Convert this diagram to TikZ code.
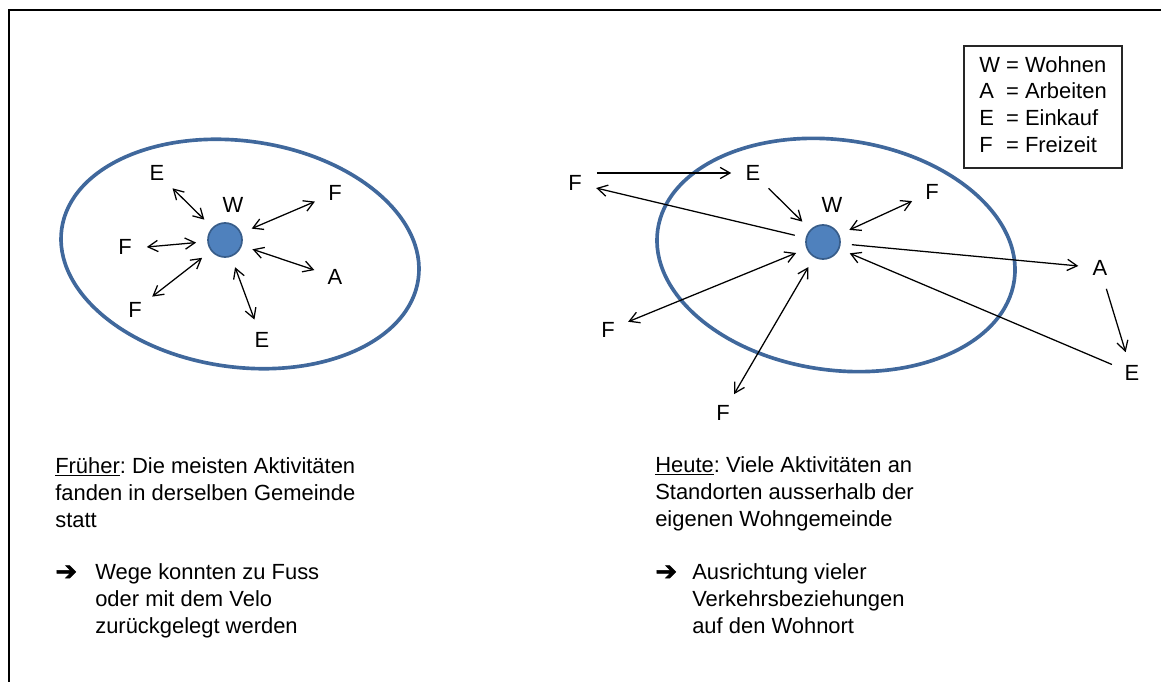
\documentclass[tikz,border=0pt]{standalone}
\usepackage{fontspec}
\setmainfont{Liberation Sans}
\newfontfamily\pfeilfont[FakeBold=2]{DejaVu Sans}
\usepackage{tikz}
\usetikzlibrary{shapes.geometric,arrows.meta}
\frenchspacing
\newcommand{\txtsize}{\fontsize{15.6}{19}\selectfont}
\definecolor{ringblue}{HTML}{40689C}
\definecolor{dotblue}{HTML}{4F81BD}
\definecolor{dotrim}{HTML}{385D8A}
\tikzset{
  gebiet/.style={
    ellipse, draw=ringblue, line width=2.6pt,
    rotate=-8, inner sep=0pt
  },
  wdot/.style={
    circle, draw=dotrim, fill=dotblue, line width=1.2pt,
    minimum size=0.85cm, inner sep=0pt, outer sep=0.3cm
  },
  lbl/.style={
    circle, inner sep=0pt, minimum size=0.75cm,
    outer sep=0.17cm, font=\txtsize
  },
  legende/.style={
    rectangle, draw=black!85, line width=0.9pt,
    minimum width=3.95cm, minimum height=3.05cm,
    inner sep=0pt, font=\txtsize
  },
  txt/.style={anchor=base west, align=left, inner sep=0pt, font=\txtsize},
  arr/.style={-{Straight Barb[length=7pt,width=8pt]}, line width=0.9pt},
  dbl/.style={{Straight Barb[length=7pt,width=8pt]}-{Straight Barb[length=7pt,width=8pt]}, line width=0.9pt},
  rahmen/.style={line width=1.6pt}
}
\begin{document}
\begin{tikzpicture}[x=0.025cm, y=-0.025cm]
\useasboundingbox (0,0) rectangle (1161,682);

% Frame
\draw[rahmen] (9,682) -- (9,10) -- (1161,10);

% Frueher: one municipality
\node[gebiet, minimum width=9cm, minimum height=5.65cm] (ortL) at (240,254) {};
\node[wdot] (wL) at (225,240) {};
\node[lbl] (wtL) at (233,205) {W};
\node[lbl] (eL1) at (157,173) {E};
\node[lbl] (fL1) at (335,193) {F};
\node[lbl] (fL2) at (125,247) {F};
\node[lbl] (aL)  at (335,277) {A};
\node[lbl] (fL3) at (135,310) {F};
\node[lbl] (eL2) at (262,340) {E};

% Heute: trips out of the municipality
\node[gebiet, minimum width=9cm, minimum height=5.75cm] (ortR) at (836,255) {};
\node[wdot] (wR) at (823,242) {};
\node[lbl] (wtR) at (832,205) {W};
\node[lbl] (fR1) at (575,183) {F};
\node[lbl] (eR1) at (753,173) {E};
\node[lbl] (fR2) at (932,192) {F};
\node[lbl] (aR)  at (1100,268) {A};
\node[lbl] (eR2) at (1132,373) {E};
\node[lbl] (fR3) at (608,330) {F};
\node[lbl] (fR4) at (723,413) {F};

% Legend
\node[legende] (leg) at (1043,107)
  {\begin{tabular}{@{}l@{ }l@{}}
   W & = Wohnen\\
   A & = Arbeiten\\
   E & = Einkauf\\
   F & = Freizeit
   \end{tabular}};

% Texts (anchored at the baseline of their last line)
\node[txt] (frueher) at (55,527)
  {\underline{Früher}: Die meisten Aktivitäten\\
   fanden in derselben Gemeinde\\
   statt};
\node[txt] (pfeilL) at (55,580) {\pfeilfont\fontsize{18.5}{19}\selectfont ➔};
\node[txt] (folgeL) at (95,633)
  {Wege konnten zu Fuss\\
   oder mit dem Velo\\
   zurückgelegt werden};

\node[txt] (heute) at (655,526)
  {\underline{Heute}: Viele Aktivitäten an\\
   Standorten ausserhalb der\\
   eigenen Wohngemeinde};
\node[txt] (pfeilR) at (655,580) {\pfeilfont\fontsize{18.5}{19}\selectfont ➔};
\node[txt] (folgeR) at (692,633)
  {Ausrichtung vieler\\
   Verkehrsbeziehungen\\
   auf den Wohnort};

% ── Arrows ──────────────────────────────────────────────────────────────
\draw[dbl] (wL) -- (eL1);
\draw[dbl] (wL) -- (fL1);
\draw[dbl] (wL) -- (fL2.east);
\draw[dbl] (wL) -- (aL);
\draw[dbl] (wL) -- (fL3);
\draw[dbl] (wL) -- (eL2);

\draw[arr] (fR1.east |- eR1.west) -- (eR1.west);
\draw[arr] (wR) -- (fR1);
\draw[arr] (eR1) -- (wR);
\draw[dbl] (wR) -- (fR2);
\draw[arr] (wR) -- (aR);
\draw[arr] (eR2) -- (wR);
\draw[arr] (aR) -- (eR2);
\draw[dbl] (wR) -- (fR3);
\draw[dbl] (wR) -- (fR4);

\end{tikzpicture}
\end{document}
